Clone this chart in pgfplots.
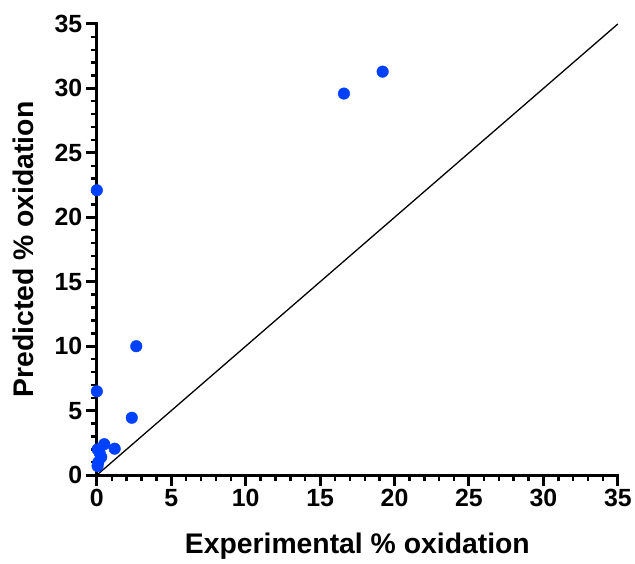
\documentclass[border=0pt]{standalone}
\usepackage{pgfplots}
\pgfplotsset{compat=1.18}
\usepackage{fontspec}
\setmainfont{Liberation Sans}
\definecolor{ptblue}{RGB}{0,64,255}
\begin{document}
\begin{tikzpicture}
\begin{axis}[
  scale only axis,
  width=522bp, height=452bp,
  xmin=0, xmax=35, ymin=0, ymax=35,
  axis x line*=bottom, axis y line*=left,
  axis line style={line width=3bp, line cap=rect},
  xtick={0,5,...,35}, ytick={0,5,...,35},
  minor tick num=4,
  tick align=outside,
  major tick length=11bp, minor tick length=6bp,
  major tick style={line width=3bp, black},
  minor tick style={line width=2.4bp, black},
  tick label style={font=\fontsize{25}{28}\selectfont\bfseries},
  /pgf/number format/assume math mode=true,
  label style={font=\fontsize{28.5}{32}\selectfont\bfseries},
  xlabel={Experimental \% oxidation},
  ylabel={Predicted \% oxidation},
  xlabel style={at={([yshift=-71bp]axis description cs:0.5,0)}, anchor=center},
  ylabel style={at={([xshift=-74bp]axis description cs:0,0.5)}, anchor=center},
  clip=false,
]
\addplot[black, line width=1.3bp] coordinates {(0,0) (35,35)};
\addplot[only marks, mark=*, mark size=5.8bp, color=ptblue] coordinates {
  (0,22.1) (0,6.5) (2.35,4.45) (2.65,10.0) (16.6,29.6) (19.2,31.3)
  (0.5,2.4) (1.2,2.05) (0.05,2.0) (0.3,1.4) (0.1,1.0) (0.05,0.7) (0.2,1.7)
};
\path ([xshift=-97bp,yshift=-89bp]rel axis cs:0,0)
  -- ([xshift=16bp,yshift=24bp]rel axis cs:1,1);
\end{axis}
\end{tikzpicture}
\end{document}
